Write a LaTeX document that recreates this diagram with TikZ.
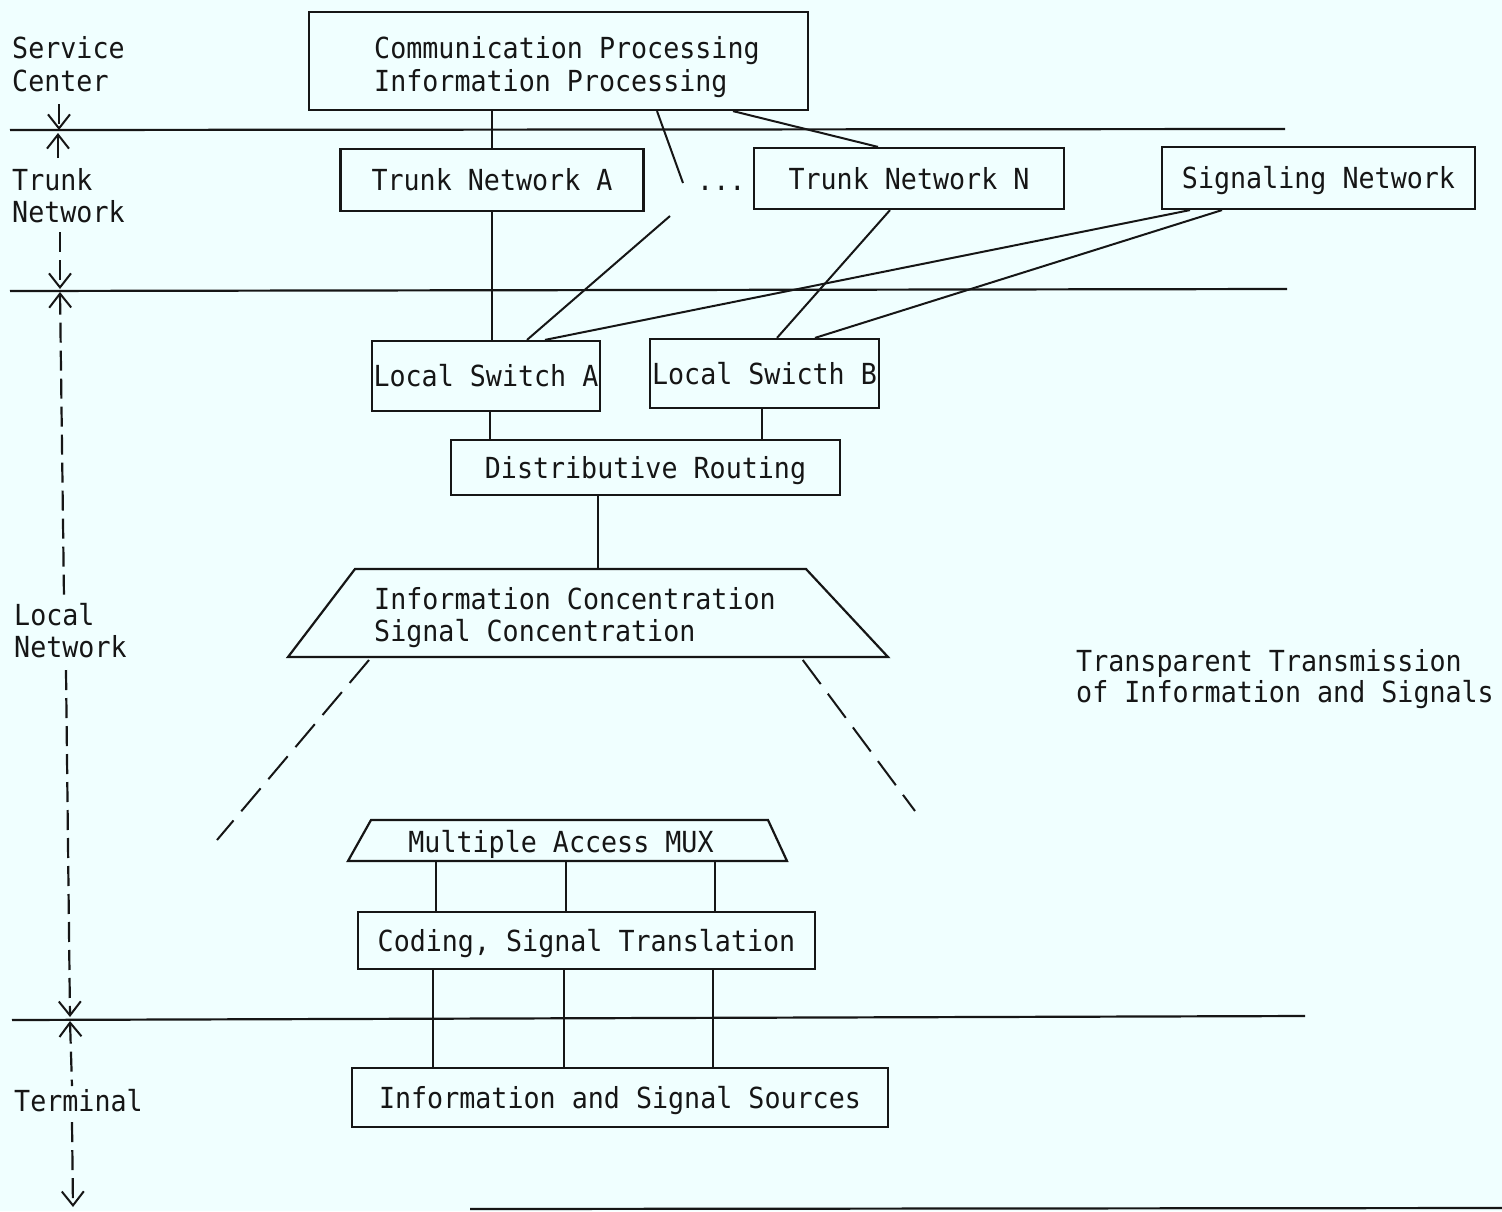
\documentclass[tikz,border=0pt]{standalone}
\usepackage{fontspec}
\newfontfamily\plotter{DejaVu Sans Mono}[FakeStretch=0.92]
\usetikzlibrary{arrows.meta,calc}
\definecolor{paper}{RGB}{240,255,255}
\definecolor{ink}{RGB}{22,22,22}

\begin{document}
\begin{tikzpicture}[x=1pt,y=-1pt,
  every node/.style={font=\plotter\fontsize{29}{32}\selectfont, text=ink, inner sep=0pt},
  box/.style={draw=ink, line width=2.2pt, text height=21pt, text depth=0pt},
  lbl/.style={anchor=base west},
  wire/.style={draw=ink, line width=2pt},
  level/.style={draw=ink, line width=2.2pt},
  axis/.style={draw=ink, line width=2.2pt, dash pattern=on 20pt off 8pt},
  downtip/.style={-{Straight Barb[length=14pt,width=22pt,line width=2pt]}},
  uptip/.style={{Straight Barb[length=14pt,width=22pt,line width=2pt]}-},
  longdash/.style={dash pattern=on 30pt off 12pt},
]
% paper and page frame
\fill[paper] (0,0) rectangle (1502,1211);
\useasboundingbox (0,0) rectangle (1502,1211);

% level separators
\draw[level] (10,130) -- (1285,129);
\draw[level] (10,291) -- (1287,289);
\draw[level] (12,1020) -- (1305,1016);
\draw[level] (470,1209) -- (1502,1208);

% level names on the left
\node[lbl] (svc1) at (12,58.5) {Service};
\node[lbl] (svc2) at (12,91) {Center};
\node[lbl] (trk1) at (12,190.5) {Trunk};
\node[lbl] (trk2) at (12,222.5) {Network};
\node[lbl] (loc1) at (14,625.5) {Local};
\node[lbl] (loc2) at (14,657.5) {Network};
\node[lbl] (term) at (14,1111) {Terminal};

% extent arrows of each level
\draw[axis, downtip] (59,104) -- (59,130);
\draw[wire, downtip] (58,158) -- (58,133);
\draw[axis, downtip] (60,232) -- (60,289);
\draw[axis, uptip] (60,292) -- (64,598);
\draw[axis, downtip] (66,670) -- (70,1017);
\draw[axis, uptip] (70,1021) -- (72,1086);
\draw[axis, downtip] (72,1122) -- (73,1207);

% service center
\node[box, minimum width=499pt, minimum height=98pt] (comm) at (558.5,61) {};
\node[lbl] (commA) at (374,58.5) {Communication Processing};
\node[lbl] (commB) at (374,91) {Information Processing};

% trunk networks
\node[box, minimum width=303pt, minimum height=62pt] (ta) at (492,180) {Trunk Network A};
\node[lbl] (dots) at (697,190) {...};
\node[box, minimum width=310pt, minimum height=61pt] (tn) at (909,178.5) {Trunk Network N};
\node[box, minimum width=313pt, minimum height=62pt] (sig) at (1318.5,178) {Signaling Network};

% local network
\node[box, minimum width=228pt, minimum height=70pt] (lsa) at (486,376) {Local Switch A};
\node[box, minimum width=229pt, minimum height=69pt] (lsb) at (764.5,373.5) {Local Swicth B};
\node[box, minimum width=389pt, minimum height=55pt] (dr) at (645.5,467.5) {Distributive Routing};

\coordinate (ic-nw) at (355,569);
\coordinate (ic-ne) at (806,569);
\coordinate (ic-se) at (888,657);
\coordinate (ic-sw) at (288,657);
\draw[level] (ic-nw) -- (ic-ne) -- (ic-se) -- (ic-sw) -- cycle;
\node[lbl] (icA) at (374,609.5) {Information Concentration};
\node[lbl] (icB) at (374,641.5) {Signal Concentration};

\coordinate (mx-nw) at (371,820);
\coordinate (mx-ne) at (768,820);
\coordinate (mx-se) at (787,861);
\coordinate (mx-sw) at (348,861);
\draw[level] (mx-nw) -- (mx-ne) -- (mx-se) -- (mx-sw) -- cycle;
\node[text height=21pt, text depth=0pt] (mux) at (561,842) {Multiple Access MUX};

\node[box, minimum width=457pt, minimum height=57pt] (cst) at (586.5,940.5) {Coding, Signal Translation};

% terminal
\node[box, minimum width=536pt, minimum height=59pt] (iss) at (620,1097.5) {Information and Signal Sources};

\node[lbl] (tt1) at (1076,671) {Transparent Transmission};
\node[lbl] (tt2) at (1076,702.5) {of Information and Signals};

% connectors
\draw[wire] (ta.north |- comm.south) -- (ta.north);
\coordinate (dots-in) at (683,183);
\draw[wire] ([xshift=98.5pt]comm.south) -- (dots-in);
\draw[wire] ([xshift=174.5pt]comm.south) -- ([xshift=-31pt]tn.north);

\draw[wire] (ta.south) -- (ta.south |- lsa.north);
\coordinate (dots-out) at (670,216);
\draw[wire] (dots-out) -- ([xshift=41pt]lsa.north);
\draw[wire] ([xshift=-19pt]tn.south) -- ([xshift=12.5pt]lsb.north);
\draw[wire] ([xshift=-128.5pt]sig.south) -- ([xshift=59pt]lsa.north);
\draw[wire] ([xshift=-96.5pt]sig.south) -- ([xshift=50.5pt]lsb.north);

\coordinate (ka) at ([xshift=4pt]lsa.south);
\draw[wire] (ka) -- (ka |- dr.north);
\coordinate (kb) at ([xshift=-2.5pt]lsb.south);
\draw[wire] (kb) -- (kb |- dr.north);
\coordinate (kc) at ([xshift=-47.5pt]dr.south);
\draw[wire] (kc) -- (kc |- ic-nw);

\coordinate (ic-l-end) at (217,840);
\coordinate (ic-r-end) at (915,811);
\draw[wire, longdash] ($(ic-sw)!0.135!(ic-se)+(0,3)$) -- (ic-l-end);
\draw[wire, longdash] ($(ic-sw)!0.858!(ic-se)+(0,3)$) -- (ic-r-end);

\foreach \i/\d in {1/-150.5, 2/-20.5, 3/128.5}{
  \coordinate (m\i) at ([xshift=\d pt]cst.north);
  \draw[wire] (m\i |- mx-sw) -- (m\i);
}
\foreach \i/\d in {1/-153.5, 2/-22.5, 3/126.5}{
  \coordinate (s\i) at ([xshift=\d pt]cst.south);
  \draw[wire] (s\i) -- (s\i |- iss.north);
}
\end{tikzpicture}
\end{document}
